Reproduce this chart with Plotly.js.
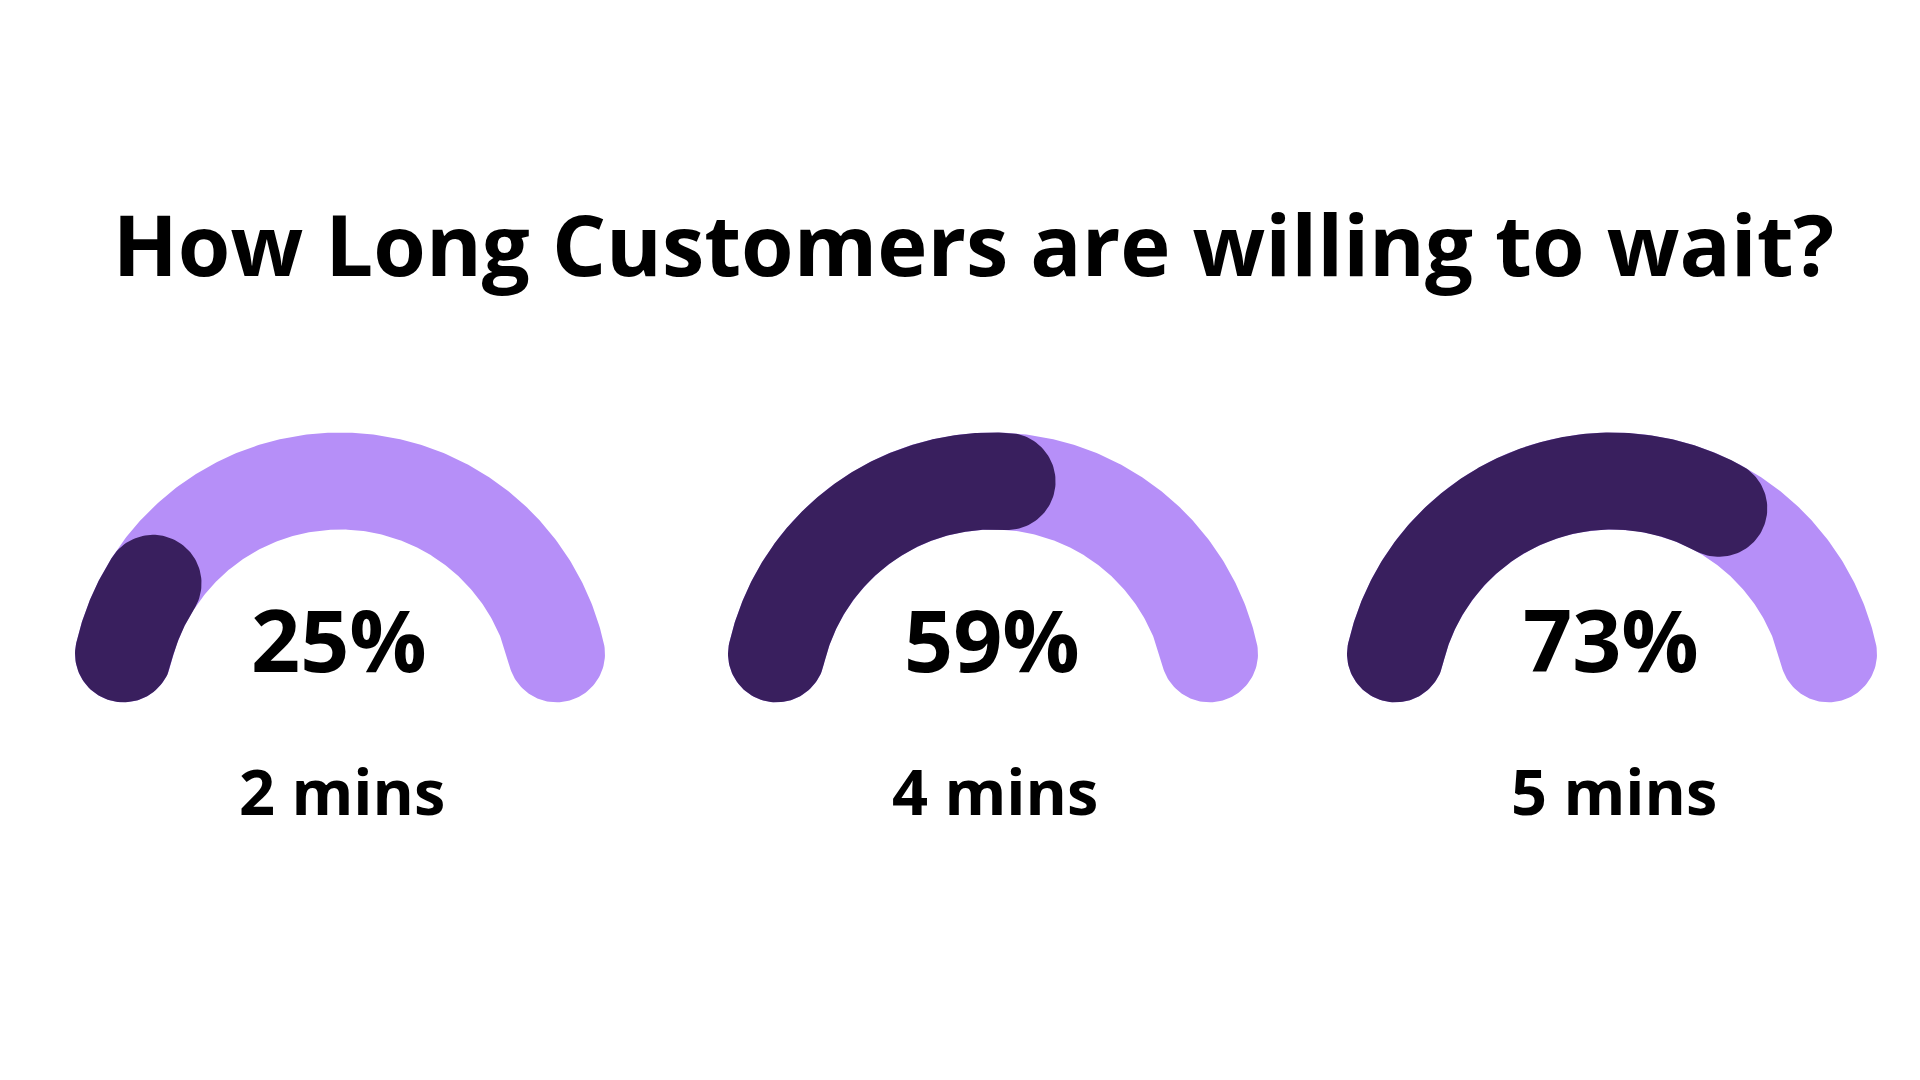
<!DOCTYPE html>
<html>
<head>
<meta charset="utf-8">
<script src="https://cdn.plot.ly/plotly-3.0.1.min.js"></script>
<style>
  html, body { margin: 0; padding: 0; background: #ffffff; }
  #chart { width: 1920px; height: 1080px; }
</style>
</head>
<body>
<div id="chart"></div>
<script>
// ---- data ----
const chartTitle = "How Long Customers are willing to wait?";
const percentValues = [25, 59, 73];
const waitLabels = ["2 mins", "4 mins", "5 mins"];

// ---- layout constants (pixel-unit axes) ----
const W = 1920, H = 1080;
const gaugeCentersX = [340, 993, 1612];
const gaugeCenterY = 703;
const ringRadius = 222;      // centre-line radius
const ringHalf = 48.5;       // half of ring thickness
const startDeg = 167.2;      // left end of the track
const endDeg = 12.8;         // right end of the track
const darkColor = "#391F5E";
const lightColor = "#B68FF8";
const fontFamily = "'Open Sans', 'Noto Sans', sans-serif";

function rad(d) { return d * Math.PI / 180; }

// capsule-shaped arc (round caps) from angle a0 down to a1 (degrees)
function capsule(cx, cy, a0, a1) {
  const xs = [], ys = [];
  const n = 240, m = 60;
  const push = (x, y) => { xs.push(x); ys.push(y); };
  for (let i = 0; i <= n; i++) {
    const t = a0 + (a1 - a0) * i / n;
    push(cx + (ringRadius + ringHalf) * Math.cos(rad(t)), cy - (ringRadius + ringHalf) * Math.sin(rad(t)));
  }
  const ex = cx + ringRadius * Math.cos(rad(a1)), ey = cy - ringRadius * Math.sin(rad(a1));
  for (let i = 0; i <= m; i++) {
    const p = a1 - 180 * i / m;
    push(ex + ringHalf * Math.cos(rad(p)), ey - ringHalf * Math.sin(rad(p)));
  }
  for (let i = 0; i <= n; i++) {
    const t = a1 + (a0 - a1) * i / n;
    push(cx + (ringRadius - ringHalf) * Math.cos(rad(t)), cy - (ringRadius - ringHalf) * Math.sin(rad(t)));
  }
  const sx = cx + ringRadius * Math.cos(rad(a0)), sy = cy - ringRadius * Math.sin(rad(a0));
  for (let i = 0; i <= m; i++) {
    const p = a0 + 180 - 180 * i / m;
    push(sx + ringHalf * Math.cos(rad(p)), sy - ringHalf * Math.sin(rad(p)));
  }
  return { x: xs, y: ys };
}

// the filled share is measured along the full rounded bar (caps included)
const sweepRad = rad(startDeg - endDeg);
const barLength = ringRadius * sweepRad + 2 * ringHalf;
function valueAngle(v) {
  const len = v / 100 * barLength - 2 * ringHalf;
  return startDeg - (Math.max(len, 0) / ringRadius) * 180 / Math.PI;
}

const traces = [];
const annotations = [];
percentValues.forEach((v, i) => {
  const cx = gaugeCentersX[i];
  const track = capsule(cx, gaugeCenterY, startDeg, endDeg);
  traces.push({
    type: "scatter", mode: "lines", x: track.x, y: track.y,
    fill: "toself", fillcolor: lightColor, line: { width: 0, color: lightColor },
    hoverinfo: "skip", showlegend: false
  });
  const val = capsule(cx, gaugeCenterY, startDeg, valueAngle(v));
  traces.push({
    type: "scatter", mode: "lines", x: val.x, y: val.y,
    fill: "toself", fillcolor: darkColor, line: { width: 0, color: darkColor },
    hoverinfo: "skip", showlegend: false
  });
  annotations.push({
    x: cx - 1, y: 638, xref: "x", yref: "y", showarrow: false,
    text: v + "%", xanchor: "center", yanchor: "middle",
    font: { family: fontFamily, size: 86, color: "#000000", weight: 700 }
  });
  annotations.push({
    x: cx + 2, y: 790, xref: "x", yref: "y", showarrow: false,
    text: waitLabels[i], xanchor: "center", yanchor: "middle",
    font: { family: fontFamily, size: 63, color: "#000000", weight: 700 }
  });
});

const layout = {
  width: W, height: H,
  margin: { l: 0, r: 0, t: 0, b: 0, pad: 0 },
  paper_bgcolor: "#ffffff", plot_bgcolor: "#ffffff",
  showlegend: false,
  title: {
    text: chartTitle,
    x: 973.5 / W, xanchor: "center", xref: "paper",
    y: 1 - 246.5 / H, yanchor: "middle", yref: "paper",
    font: { family: fontFamily, size: 85, color: "#000000", weight: 700 }
  },
  xaxis: { range: [0, W], visible: false, fixedrange: true },
  yaxis: { range: [H, 0], visible: false, fixedrange: true },
  annotations: annotations
};

Plotly.newPlot("chart", traces, layout, { displayModeBar: false, staticPlot: true });
</script>
</body>
</html>
